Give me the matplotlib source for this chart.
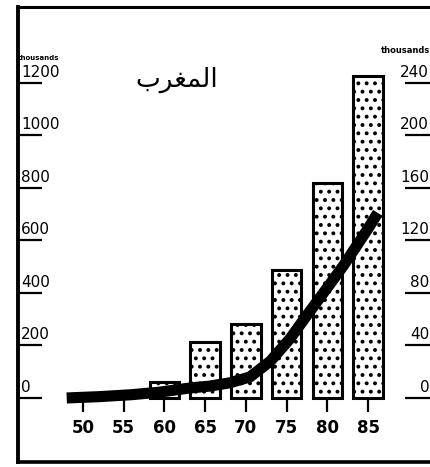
import matplotlib
matplotlib.use("Agg")
import matplotlib.pyplot as plt
from matplotlib import transforms
from matplotlib.lines import Line2D

# Bars: left axis (thousands)
bar_years = [60, 65, 70, 75, 80, 85]
bar_values = [60, 215, 282, 487, 818, 1225]

# Curve: right axis (thousands)
line_years = [48, 52, 56, 59.5, 63, 65.5, 68, 70.5, 73, 75.4, 77.5, 80, 82, 85, 86.2]
line_values = [0, 1, 2.5, 4.5, 7.5, 9, 11.5, 16, 28, 45, 63, 84, 101, 129, 141]

x_ticks = [50, 55, 60, 65, 70, 75, 80, 85]
left_ticks = [0, 200, 400, 600, 800, 1000, 1200]
right_ticks = [0, 40, 80, 120, 160, 200, 240]

title = "\uFE8F\uFEAE\uFED0\uFEE4\uFEDF\uFE8D"  # المغرب (shaped forms)

plt.rcParams["hatch.linewidth"] = 1.6

W, H = 430, 467
fig = plt.figure(figsize=(W / 100, H / 100), dpi=100)
fig.patch.set_facecolor("white")

x0, x1 = 17.5, 430.0
y_top, y_bot = 6.5, 461.5
ax = fig.add_axes([x0 / W, (H - y_bot) / H, (x1 - x0) / W, (y_bot - y_top) / H])

ax.set_xlim(41.96, 92.61)
ax.set_ylim(-242, 1491)

ax.bar(bar_years, bar_values, width=3.6, color="white", edgecolor="black",
       linewidth=2.2, hatch="..", zorder=2)

# frame
ax.spines["right"].set_visible(False)
ax.spines["left"].set_linewidth(2.8)
ax.spines["top"].set_linewidth(2.2)
ax.spines["bottom"].set_position(("data", 0))
ax.spines["bottom"].set_visible(False)
fig.add_artist(Line2D([x0 / W, 1.0], [(H - y_bot) / H] * 2, color="black",
                      linewidth=2.6, transform=fig.transFigure))

# x axis
ax.set_xticks(x_ticks)
ax.set_xticklabels([str(v) for v in x_ticks], fontsize=12, fontweight="bold")
ax.tick_params(axis="x", direction="out", length=10, width=1.6, pad=5)

# left axis
ax.set_yticks(left_ticks)
ax.set_yticklabels([])
ax.tick_params(axis="y", direction="in", length=17, width=1.6)
blend = transforms.blended_transform_factory(ax.transAxes, ax.transData)
lab_tr = transforms.offset_copy(blend, fig=fig, y=4.5, units="points")
for v in left_ticks:
    ax.text(0.009, v, str(v), transform=lab_tr, ha="left", va="baseline",
            fontsize=11)
ax.text(0.0, 1285, "thousands", transform=blend, ha="left", va="bottom",
        fontsize=5, fontweight="bold")

# right axis
ax2 = ax.twinx()
ax2.set_ylim(-242 / 5, 1491 / 5)
for s in ax2.spines.values():
    s.set_visible(False)
ax2.set_yticks(right_ticks)
ax2.set_yticklabels([])
ax2.tick_params(axis="y", direction="in", length=18, width=1.6)
blend2 = transforms.blended_transform_factory(ax2.transAxes, ax2.transData)
lab_tr2 = transforms.offset_copy(blend2, fig=fig, y=4.5, units="points")
for v in right_ticks:
    ax2.text(0.998, v, str(v), transform=lab_tr2, ha="right", va="baseline",
             fontsize=11)
ax2.text(1.0, 261, "thousands", transform=blend2, ha="right", va="bottom",
         fontsize=6, fontweight="bold")

ax2.plot(line_years, line_values, color="black", linewidth=8,
         solid_capstyle="butt", solid_joinstyle="round", zorder=3)

fig.text(177 / W, 1 - 80 / H, title, ha="center", va="center", fontsize=19,
         family="DejaVu Sans")

fig.savefig("out.png", dpi=100)
